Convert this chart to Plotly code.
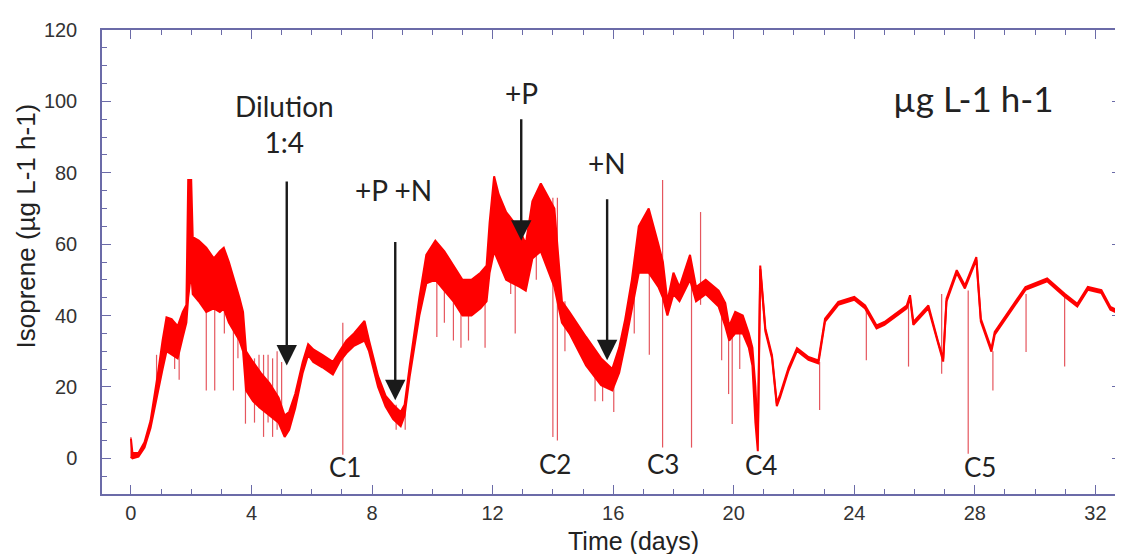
import plotly.graph_objects as go

# ---- data ----
band_t = [0.00, 0.05, 0.25, 0.45, 0.65, 0.80, 0.90, 1.05, 1.18, 1.35, 1.55, 1.72, 1.84, 1.90, 2.00,
          2.05, 2.25, 2.50, 2.75, 2.95, 3.08, 3.25, 3.40, 3.60, 3.72, 3.82, 4.05, 4.30, 4.60, 4.90,
          5.10, 5.25, 5.45, 5.70, 5.88, 6.05, 6.35, 6.70, 6.92, 7.15, 7.40, 7.75, 7.90, 8.20, 8.45,
          8.70, 8.95, 9.08, 9.25, 9.57, 9.80, 10.10, 10.40, 10.70, 11.00, 11.30, 11.60, 11.80, 11.90,
          12.05, 12.20, 12.45, 12.90, 13.10, 13.32, 13.60, 13.87, 14.05, 14.30, 14.55, 15.10, 15.60,
          15.97, 16.20, 16.40, 16.62, 16.85, 17.18, 17.50, 17.65, 17.80, 18.00, 18.20, 18.55, 18.75,
          19.07, 19.50, 19.72, 19.85, 20.05, 20.30, 20.50, 20.62, 20.72, 20.80, 20.88, 21.05, 21.27,
          21.43, 21.54, 21.82, 22.10, 22.48, 22.81, 23.03, 23.47, 24.00, 24.36, 24.74, 25.00, 25.74,
          25.85, 25.96, 26.46, 26.79, 26.95, 27.06, 27.40, 27.67, 28.05, 28.20, 28.55, 28.66, 29.40,
          29.68, 30.40, 30.98, 31.40, 31.75, 32.20, 32.50, 32.85]
band_upper = [5.5, 1.5, 1.5, 4.5, 10.5, 18, 24, 33, 39.5, 39, 37, 41, 43, 78, 78,
              62, 61, 59, 56, 58, 59, 55, 51, 45, 41, 30, 27, 24, 21, 17,
              12, 13, 18, 27, 32, 30.5, 29, 27, 30, 33, 35, 38.5, 33, 23, 17.5,
              15, 13, 15, 26, 45, 57, 61, 58, 54, 50, 50, 52, 54, 66,
              79, 74, 69, 64, 60, 72, 77, 73, 70, 44, 41, 34, 28,
              25, 31, 39, 50, 65, 70, 60, 55, 44, 52, 48, 57, 48,
              50, 47, 43.5, 37, 41, 40, 35, 31, 20, 6, 54, 36.4, 28.9,
              15.4, 17.9, 25.4, 30.9, 28.4, 27.4, 39.1, 43.8, 45.2, 42.8, 37.2, 38.2, 42.8,
              45.7, 38.2, 42.8, 32.4, 27.9, 44.7, 52.7, 48.4, 56.4, 39.1, 30.7, 35.4, 44.7,
              48.0, 50.4, 46.1, 43.3, 48.0, 47.1, 42.4, 41.0]
band_lower = [0.5, 0, 0.5, 3, 8.5, 15, 19, 25, 30, 29, 28, 34, 38, 45, 52,
              46, 44, 41, 42, 41, 42, 38, 36, 33, 30, 19, 16, 14, 12, 10,
              6, 8, 14, 24, 29, 27, 25.5, 23.5, 27, 29.5, 31.5, 33, 30, 20, 14.5,
              11, 9, 12, 23, 40, 49, 50, 47, 44, 40, 40, 42, 44, 52,
              58, 55, 50, 48, 47, 56, 58, 52, 48, 38, 35, 26, 20.5,
              19, 24, 32, 42, 52, 52, 48, 45, 40, 46, 44, 50, 44,
              46, 42.5, 37, 33, 35, 35, 31, 26, 10, 2, 53, 35.6, 28.1,
              14.6, 17.1, 24.6, 30.1, 27.6, 26.6, 38.3, 43.0, 44.4, 42.0, 36.4, 37.4, 42.0,
              44.9, 37.4, 42.0, 31.6, 27.1, 43.9, 51.9, 47.6, 55.6, 38.3, 29.9, 34.6, 43.9,
              47.2, 49.6, 45.3, 42.5, 47.2, 46.3, 41.6, 40.2]

spike_t = [0.00, 0.85, 1.45, 1.60, 2.50, 2.78, 3.10, 3.40, 3.55, 3.80, 4.10, 4.25, 4.40, 4.55, 4.70,
           4.85, 5.00, 7.03, 8.80, 9.10, 10.15, 10.40, 10.70, 10.95, 11.20, 11.75, 12.60, 12.75,
           13.45, 14.00, 14.15, 14.40, 15.40, 15.65, 16.02, 16.70, 17.20, 17.64, 18.60, 18.90,
           19.60, 19.83, 19.95, 20.20, 22.85, 24.40, 25.80, 26.90, 27.78, 28.60, 29.70, 30.98, 32.70]
spike_lo = [0, 18, 25, 22, 19, 19, 35, 19, 28, 9.7, 10, 14, 6, 10, 6,
            8, 9, 1, 8, 8, 34, 38, 33, 31, 33, 31, 46, 35,
            50, 6, 5, 30, 16, 16, 13, 35, 29, 3, 3, 43,
            27.5, 18, 9.6, 25, 13.5, 27.5, 25.7, 23.7, 1.3, 19, 29.8, 25.7, 36.8]
spike_hi = [6, 29, 33, 30, 45, 45, 58, 40, 42, 30, 28, 29, 29, 29, 28,
            30, 27, 38, 15, 14, 50, 50, 45, 42, 42, 44, 56, 50,
            60, 73, 73, 44, 24, 22, 20, 45, 52, 78, 50, 69,
            44, 37, 37, 40, 27, 42, 45, 46, 47, 30, 46, 46, 41]

arrow_labels = ["Dilution<br>1:4", "+P +N", "+P", "+N"]
arrow_t = [5.17, 8.77, 12.95, 15.80]
arrow_tail = [78, 61, 95.4, 73]
arrow_tip = [26, 16.3, 61, 27.5]
label_t = [5.1, 8.7, 12.95, 15.8]
label_y = [93.8, 75.2, 102.4, 82.7]

c_labels = ["C1", "C2", "C3", "C4", "C5"]
c_t = [7.1, 14.07, 17.65, 20.9, 28.17]
c_y = [-2.3, -1.5, -1.7, -2.0, -2.3]

x_ticks = [0, 4, 8, 12, 16, 20, 24, 28, 32]
y_ticks = [0, 20, 40, 60, 80, 100, 120]

# ---- figure ----
fig = go.Figure()
RED = "#ff0000"

sx, sy = [], []
for t, lo, hi in zip(spike_t, spike_lo, spike_hi):
    sx += [t, t, None]
    sy += [lo, hi, None]
fig.add_trace(go.Scatter(x=sx, y=sy, mode="lines",
                         line=dict(color="rgba(220,30,40,0.75)", width=1.2),
                         hoverinfo="skip", showlegend=False))

fig.add_trace(go.Scatter(x=band_t, y=band_upper, mode="lines",
                         line=dict(color=RED, width=2), showlegend=False))
fig.add_trace(go.Scatter(x=band_t, y=band_lower, mode="lines",
                         line=dict(color=RED, width=2), fill="tonexty",
                         fillcolor=RED, showlegend=False))

AX = "#6b6ba8"
TXT = "#222"
ANNF = "Lato, Open Sans, sans-serif"
annotations = []
for t, tail, tip in zip(arrow_t, arrow_tail, arrow_tip):
    annotations.append(dict(x=t, y=tip, ax=t, ay=tail, xref="x", yref="y",
                            axref="x", ayref="y", text="", showarrow=True,
                            arrowhead=2, arrowsize=1.7, arrowwidth=2.4, arrowcolor="#1a1a1a"))
for lab, t, y in zip(arrow_labels, label_t, label_y):
    annotations.append(dict(x=t, y=y, xref="x", yref="y", text=lab, showarrow=False,
                            font=dict(family=ANNF, size=28, color=TXT), align="center"))
for lab, t, y in zip(c_labels, c_t, c_y):
    annotations.append(dict(x=t, y=y, xref="x", yref="y", text=lab, showarrow=False,
                            font=dict(family=ANNF, size=26, color=TXT)))
annotations.append(dict(x=27.95, y=101, xref="x", yref="y", text="µg L-1 h-1",
                        showarrow=False, font=dict(family=ANNF, size=35, color=TXT)))
# axis titles (placed off-centre as in the original)
annotations.append(dict(x=-0.0744, y=65, xref="paper", yref="y", text="Isoprene (µg L-1 h-1)",
                        textangle=-90, showarrow=False, xanchor="center", yanchor="middle",
                        font=dict(family="Liberation Sans, Arial, sans-serif", size=26, color=TXT)))
annotations.append(dict(x=0.522, y=-0.102, xref="paper", yref="paper", text="Time (days)",
                        showarrow=False, xanchor="center", yanchor="middle",
                        font=dict(family="Liberation Sans, Arial, sans-serif", size=25, color=TXT)))

# page body has an 8px margin, so the figure is sized to end at the window edge
fig.update_layout(
    width=1115, height=546,
    margin=dict(l=94, r=0, t=22, b=60),
    plot_bgcolor="white", paper_bgcolor="white",
    annotations=annotations,
    font=dict(family="Liberation Sans, Arial, sans-serif", size=20, color="#333"),
)
fig.update_xaxes(range=[-0.96, 32.85], tickvals=x_ticks, ticks="inside", ticklen=9,
                 tickcolor=AX, showline=True, linecolor=AX, linewidth=1.5, mirror="ticks",
                 showgrid=False, zeroline=False,
                 minor=dict(dtick=1, tick0=0, ticks="inside", ticklen=5, tickcolor=AX),
                 tickfont=dict(size=20, color="#333"))
fig.update_yaxes(range=[-10, 120], tickvals=y_ticks, ticks="inside", ticklen=9,
                 tickcolor=AX, showline=True, linecolor=AX, linewidth=1.5, mirror="ticks",
                 showgrid=False, zeroline=False,
                 minor=dict(dtick=5, tick0=0, ticks="inside", ticklen=5, tickcolor=AX),
                 tickfont=dict(size=20, color="#333"), ticklabelstandoff=19)

fig.write_html("out.html")
